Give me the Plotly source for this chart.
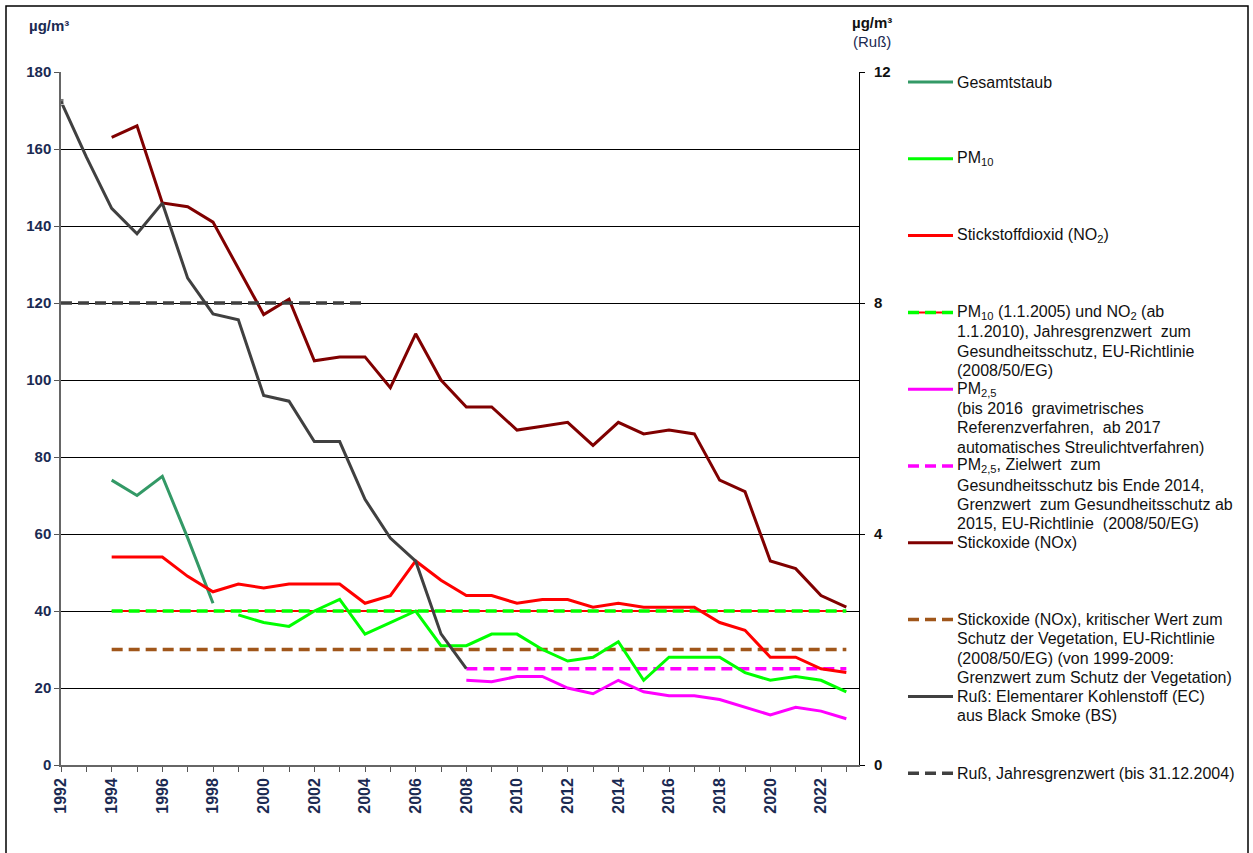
import plotly.graph_objects as go

# Data
gesamt_years = [1994, 1995, 1996, 1997, 1998]
gesamt = [74, 70, 75, 59, 42]

no2_years = list(range(1994, 2024))
no2 = [54, 54, 54, 49, 45, 47, 46, 47, 47, 47, 42, 44, 53, 48, 44,
       44, 42, 43, 43, 41, 42, 41, 41, 41, 37, 35, 28, 28, 25, 24]

pm10_years = list(range(1999, 2024))
pm10 = [39, 37, 36, 40, 43, 34, 37, 40, 31, 31, 34, 34, 30, 27, 28,
        32, 22, 28, 28, 28, 24, 22, 23, 22, 19]

pm25_years = list(range(2008, 2024))
pm25 = [22, 21.6, 23, 23, 20, 18.5, 22, 19, 18, 18, 17, 15, 13, 15, 14, 12]

nox_years = list(range(1994, 2024))
nox = [163, 166, 146, 145, 141, 129, 117, 121, 105, 106, 106, 98, 112, 100, 93,
       93, 87, 88, 89, 83, 89, 86, 87, 86, 74, 71, 53, 51, 44, 41]

# Ruß on the right axis (µg/m³)
russ_years = list(range(1992, 2009))
russ = [11.49, 10.53, 9.64, 9.2, 9.73, 8.43, 7.81, 7.71, 6.4, 6.3, 5.6, 5.6,
        4.6, 3.93, 3.53, 2.27, 1.67]

# limit values
limit_pm10_no2_years = [1994, 2023]
limit_pm10_no2 = [40, 40]
limit_pm25_years = [2008, 2023]
limit_pm25 = [25, 25]
limit_nox_years = [1994, 2023]
limit_nox = [30, 30]
limit_russ_years = [1992, 2004]
limit_russ = [8, 8]

legend_entries = [
    ("Gesamtstaub", ["Gesamtstaub"]),
    ("pm10", ["PM<sub>10</sub>"]),
    ("no2", ["Stickstoffdioxid (NO<sub>2</sub>)"]),
    ("lim40", ["PM<sub>10</sub> (1.1.2005) und NO<sub>2</sub> (ab",
               "1.1.2010), Jahresgrenzwert  zum",
               "Gesundheitsschutz, EU-Richtlinie",
               "(2008/50/EG)"]),
    ("pm25", ["PM<sub>2,5</sub>",
              "(bis 2016  gravimetrisches",
              "Referenzverfahren,  ab 2017",
              "automatisches Streulichtverfahren)"]),
    ("lim25", ["PM<sub>2,5</sub>, Zielwert  zum",
               "Gesundheitsschutz bis Ende 2014,",
               "Grenzwert  zum Gesundheitsschutz ab",
               "2015, EU-Richtlinie  (2008/50/EG)"]),
    ("nox", ["Stickoxide (NOx)"]),
    ("lim30", ["Stickoxide (NOx), kritischer Wert zum",
               "Schutz der Vegetation, EU-Richtlinie",
               "(2008/50/EG) (von 1999-2009:",
               "Grenzwert zum Schutz der Vegetation)"]),
    ("russ", ["Ruß: Elementarer Kohlenstoff (EC)",
              "aus Black Smoke (BS)"]),
    ("limruss", ["Ruß, Jahresgrenzwert (bis 31.12.2004)"]),
]

C_GESAMT = "#339966"
C_PM10 = "#00FF00"
C_NO2 = "#FF0000"
C_PM25 = "#FF00FF"
C_NOX = "#800000"
C_NOXLIM = "#A0561A"
C_RUSS = "#404040"
NAVY = "#1B2A52"
FONT = "Liberation Sans, Arial, sans-serif"
DASH = "11px,6px"

W, H = 1253, 853
L, R, T, B = 61, 394, 72, 88


def px(x):
    return (x - L) / (W - L - R)


def py(y):
    return (H - B - y) / (H - T - B)


fig = go.Figure()

# limit lines
fig.add_trace(go.Scatter(x=limit_nox_years, y=limit_nox, mode="lines",
                         line=dict(color=C_NOXLIM, width=3.5, dash=DASH)))
fig.add_trace(go.Scatter(x=limit_pm25_years, y=limit_pm25, mode="lines",
                         line=dict(color=C_PM25, width=3.5, dash=DASH)))
fig.add_trace(go.Scatter(x=limit_pm10_no2_years, y=limit_pm10_no2, mode="lines",
                         line=dict(color=C_NO2, width=2)))
fig.add_trace(go.Scatter(x=limit_pm10_no2_years, y=limit_pm10_no2, mode="lines",
                         line=dict(color=C_PM10, width=3.5, dash=DASH)))

# series
fig.add_trace(go.Scatter(x=gesamt_years, y=gesamt, mode="lines",
                         line=dict(color=C_GESAMT, width=3)))
fig.add_trace(go.Scatter(x=pm25_years, y=pm25, mode="lines",
                         line=dict(color=C_PM25, width=3)))
fig.add_trace(go.Scatter(x=pm10_years, y=pm10, mode="lines",
                         line=dict(color=C_PM10, width=3)))
fig.add_trace(go.Scatter(x=no2_years, y=no2, mode="lines",
                         line=dict(color=C_NO2, width=3)))
fig.add_trace(go.Scatter(x=nox_years, y=nox, mode="lines",
                         line=dict(color=C_NOX, width=3)))

# Ruß on right axis
fig.add_trace(go.Scatter(x=limit_russ_years, y=limit_russ, mode="lines", yaxis="y2",
                         line=dict(color=C_RUSS, width=3.5, dash=DASH)))
fig.add_trace(go.Scatter(x=russ_years, y=russ, mode="lines+markers", yaxis="y2",
                         line=dict(color=C_RUSS, width=3),
                         marker=dict(symbol="square", color=C_RUSS,
                                     size=[6] + [0] * (len(russ) - 1))))

# manual legend
legend_style = {
    "Gesamtstaub": [(C_GESAMT, 3, "solid")],
    "pm10": [(C_PM10, 3, "solid")],
    "no2": [(C_NO2, 3, "solid")],
    "lim40": [(C_NO2, 2, "solid"), (C_PM10, 3.5, DASH)],
    "pm25": [(C_PM25, 3, "solid")],
    "lim25": [(C_PM25, 3.5, DASH)],
    "nox": [(C_NOX, 3, "solid")],
    "lim30": [(C_NOXLIM, 3.5, DASH)],
    "russ": [(C_RUSS, 3, "solid")],
    "limruss": [(C_RUSS, 3.5, DASH)],
}
shapes = []
annotations = []
y0 = 82
step = 76.8
line_h = 19.3
for i, (key, lines) in enumerate(legend_entries):
    yc = y0 + i * step
    for col, wd, dash in legend_style[key]:
        shapes.append(dict(type="line", xref="paper", yref="paper",
                           x0=px(908), x1=px(953), y0=py(yc), y1=py(yc),
                           line=dict(color=col, width=wd, dash=dash)))
    for j, txt in enumerate(lines):
        annotations.append(dict(text=txt, xref="paper", yref="paper",
                                x=px(956), y=py(yc + j * line_h),
                                xanchor="left", yanchor="middle", showarrow=False,
                                borderpad=0,
                                font=dict(family=FONT, size=16, color="#111111")))

# axis unit labels
annotations.append(dict(text="µg/m³", xref="paper", yref="paper", x=px(49), y=py(25),
                        xanchor="center", yanchor="middle", showarrow=False,
                        font=dict(family=FONT, size=15, color=NAVY, weight="bold")))
annotations.append(dict(text="µg/m³", xref="paper", yref="paper", x=px(872), y=py(22),
                        xanchor="center", yanchor="middle", showarrow=False,
                        font=dict(family=FONT, size=15, color="#111111", weight="bold")))
annotations.append(dict(text="(Ruß)", xref="paper", yref="paper", x=px(872), y=py(42),
                        xanchor="center", yanchor="middle", showarrow=False,
                        font=dict(family=FONT, size=15, color=NAVY)))

# outer frame
shapes.append(dict(type="rect", xref="paper", yref="paper",
                   x0=px(6), x1=px(1248), y0=py(6), y1=py(870),
                   line=dict(color="#000000", width=1.5), layer="below"))

fig.update_layout(
    width=W, height=H,
    margin=dict(l=L, r=R, t=T, b=B),
    paper_bgcolor="white", plot_bgcolor="white",
    showlegend=False,
    shapes=shapes,
    annotations=annotations,
    xaxis=dict(range=[1992, 2023.5], tickvals=list(range(1992, 2023, 2)),
               tickangle=-90, ticks="outside", ticklen=5, tickcolor="#555555",
               minor=dict(tickvals=list(range(1992, 2024)), ticks="outside",
                          ticklen=5, tickcolor="#555555"),
               showline=True, linecolor="#666666", linewidth=1.5,
               showgrid=False, zeroline=False,
               tickfont=dict(family=FONT, size=16, color=NAVY, weight="bold")),
    yaxis=dict(range=[0, 180], dtick=20, ticks="outside", ticklen=5,
               tickcolor="#555555", showline=True, linecolor="#666666", linewidth=1.5,
               showgrid=True, gridcolor="#000000", gridwidth=1, zeroline=False,
               tickfont=dict(family=FONT, size=15, color=NAVY, weight="bold")),
    yaxis2=dict(range=[0, 12], tickvals=[0, 4, 8, 12], overlaying="y", side="right",
                ticks="outside", ticklen=5, tickcolor="#000000",
                showline=True, linecolor="#000000", linewidth=1,
                showgrid=False, zeroline=False, ticklabelstandoff=6,
                tickfont=dict(family=FONT, size=15, color="#111111", weight="bold")),
)

# drop the default page margin so the figure sits at the window's top-left corner
fig.write_html("out.html", config={"displayModeBar": False},
               post_script="document.body.style.margin='0';")
